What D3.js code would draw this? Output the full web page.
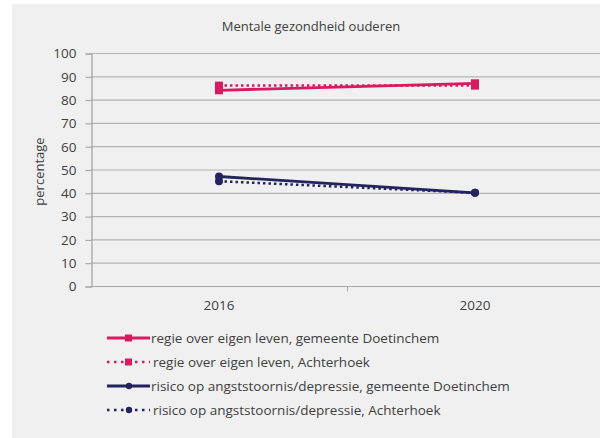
<!DOCTYPE html>
<html><head><meta charset="utf-8">
<script src="https://cdn.jsdelivr.net/npm/d3@7/dist/d3.min.js"></script>
<style>
html,body{margin:0;padding:0;background:#fff;}
svg{display:block;}
text{font-family:"Open Sans","Noto Sans",sans-serif;fill:#404040;}
</style></head><body>
<svg id="c" width="600" height="438"></svg>
<script>
const title = "Mentale gezondheid ouderen";
const yLabel = "percentage";
const years = ["2016", "2020"];
const yTicks = [0,10,20,30,40,50,60,70,80,90,100];
const seriesNames = [
  "regie over eigen leven, gemeente Doetinchem",
  "regie over eigen leven, Achterhoek",
  "risico op angststoornis/depressie, gemeente Doetinchem",
  "risico op angststoornis/depressie, Achterhoek"
];
const regieDoetinchem = [84, 87];
const regieAchterhoek = [86, 86];
const risicoDoetinchem = [47, 40];
const risicoAchterhoek = [45, 40];

const pink = "#d81b60", navy = "#23235f";
const series = [
  {name: seriesNames[0], values: regieDoetinchem, color: pink, dash: null, marker: "square"},
  {name: seriesNames[1], values: regieAchterhoek, color: pink, dash: "2.5,3", marker: "square"},
  {name: seriesNames[2], values: risicoDoetinchem, color: navy, dash: null, marker: "circle"},
  {name: seriesNames[3], values: risicoAchterhoek, color: navy, dash: "2.5,3", marker: "circle"}
];

const svg = d3.select("#c");
svg.append("rect").attr("x",12).attr("y",4).attr("width",588).attr("height",434).attr("fill","#f0f0f0");

const x = d3.scaleBand().domain(years).range([91, 603]);
const y = d3.scaleLinear().domain([0,100]).range([286, 53]);

svg.append("text").attr("x",311).attr("y",31).attr("text-anchor","middle")
  .style("font-size","13px").text(title);

// gridlines
svg.append("g").selectAll("line").data(yTicks.filter(d=>d>0)).join("line")
  .attr("x1",91).attr("x2",600).attr("y1",d=>y(d)+0.5).attr("y2",d=>y(d)+0.5)
  .attr("stroke","#b4b4b4").attr("stroke-width",1.2);

// y axis
const yAxis = d3.axisLeft(y).tickValues(yTicks).tickSize(6).tickPadding(9);
const gy = svg.append("g").attr("transform","translate(91.5,0.5)").call(yAxis);
gy.select(".domain").attr("stroke","#a0a0a0").attr("stroke-width",1.2);
gy.selectAll(".tick line").attr("stroke","#a0a0a0");
gy.selectAll(".tick text").style("font-size","13.5px").style("font-family","'Open Sans',sans-serif").attr("fill","#404040");

// x axis
const xAxis = d3.axisBottom(x).tickSize(0).tickPadding(14);
const gx = svg.append("g").attr("transform",`translate(0,${y(0)+0.5})`).call(xAxis);
gx.select(".domain").attr("d","M91,0H600").attr("stroke","#a8a8a8").attr("stroke-width",1.2);
gx.selectAll(".tick text").style("font-size","13.5px").style("font-family","'Open Sans',sans-serif").attr("fill","#404040");
// category separator ticks
gx.append("g").selectAll("line").data([years[1]]).join("line")
  .attr("x1",d=>x(d)+0.5).attr("x2",d=>x(d)+0.5).attr("y1",0).attr("y2",5)
  .attr("stroke","#a8a8a8");

svg.append("text").attr("transform",`translate(44,${(y(0)+y(100))/2+2}) rotate(-90)`)
  .attr("text-anchor","middle").style("font-size","13px").text(yLabel);

const line = d3.line().x((d,i)=>x(years[i])+x.bandwidth()/2).y(d=>y(d));

function drawMarker(g, type, cx, cy, color){
  if(type==="square") g.append("rect").attr("x",cx-4).attr("y",cy-4).attr("width",8).attr("height",8).attr("fill",color);
  else g.append("circle").attr("cx",cx).attr("cy",cy).attr("r",4).attr("fill",color);
}

const gs = svg.append("g");
series.slice().reverse().forEach(s=>{
  gs.append("path").datum(s.values).attr("d",line).attr("fill","none")
    .attr("stroke",s.color).attr("stroke-width",s.dash?2.5:2.8)
    .attr("stroke-dasharray",s.dash);
  s.values.forEach((v,i)=>drawMarker(gs, s.marker, x(years[i])+x.bandwidth()/2, y(v), s.color));
});

// legend
const lg = svg.append("g");
series.forEach((s,i)=>{
  const ly = 338 + i*24;
  const g = lg.append("g");
  g.append("line").attr("x1",107).attr("x2",150).attr("y1",ly).attr("y2",ly)
    .attr("stroke",s.color).attr("stroke-width",s.dash?2.5:2.8).attr("stroke-dasharray",s.dash?"2.5,4.5":null);
  if(s.marker==="square") g.append("rect").attr("x",125).attr("y",ly-3.5).attr("width",7).attr("height",7).attr("fill",s.color);
  else g.append("circle").attr("cx",129).attr("cy",ly).attr("r",3.2).attr("fill",s.color);
  g.append("text").attr("x",s.dash?153:151).attr("y",ly+4.5).style("font-size","13.5px").text(s.name);
});
</script>
</body></html>
